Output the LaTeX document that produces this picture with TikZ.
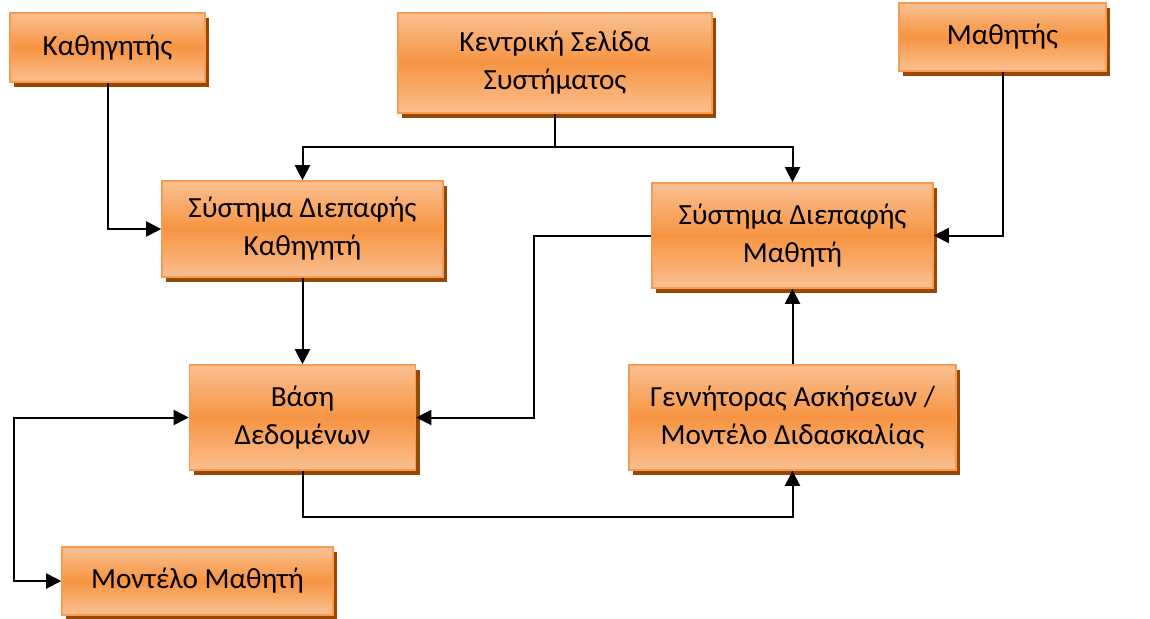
\documentclass[tikz,border=0pt]{standalone}
\usepackage{fontspec}
\setmainfont{Carlito}
\usetikzlibrary{arrows.meta,shadows}

\definecolor{orlight}{RGB}{250,192,145}
\definecolor{ormid}{RGB}{247,148,66}
\definecolor{orline}{RGB}{247,155,80}
\definecolor{orshadow}{RGB}{152,72,6}

\tikzset{
  box/.style 2 args={
    rectangle, draw=orline, line width=0.8pt,
    top color=orlight, bottom color=orlight, middle color=ormid,
    drop shadow={fill=orshadow, opacity=1, shadow xshift=2pt, shadow yshift=-2.5pt},
    minimum width=#1*0.5pt, minimum height=#2*0.5pt,
    inner sep=0pt, align=center,
    font=\fontsize{14.6pt}{19pt}\selectfont
  },
  link/.style={draw=black, line width=1pt},
  arr/.style={link, -{Triangle[length=7.5pt,width=7.5pt]}},
  biarr/.style={link, {Triangle[length=7.5pt,width=7.5pt]}-{Triangle[length=7.5pt,width=7.5pt]}}
}

\begin{document}
\begin{tikzpicture}[x=0.5pt,y=-0.5pt]
  \useasboundingbox (0,0) rectangle (1150,618);

  % boxes
  \node[box={195}{69}]  (kath) at (107.5,47.5) {Καθηγητής};
  \node[box={314}{100}] (kent) at (555,63)     {Κεντρική Σελίδα\\Συστήματος};
  \node[box={207}{68}]  (math) at (1002.5,37)  {Μαθητής};
  \node[box={281}{96}]  (sdk)  at (302.5,229)  {Σύστημα Διεπαφής\\Καθηγητή};
  \node[box={281}{105}] (sdm)  at (792.5,235.5){Σύστημα Διεπαφής\\Μαθητή};
  \node[box={226}{105}] (bd)   at (302.5,417.5){Βάση\\Δεδομένων};
  \node[box={327}{105}] (ga)   at (792.5,417.5){Γεννήτορας Ασκήσεων /\\Μοντέλο Διδασκαλίας};
  \node[box={271}{68}]  (mm)   at (197.5,581)  {Μοντέλο Μαθητή};

  % routing points
  \coordinate (split) at (555,147);
  \coordinate (dbx)   at (534,0);
  \coordinate (loopx) at (14,0);
  \coordinate (bottomy) at (0,517);

  % connectors
  \draw[arr] (kath.south) |- (sdk.west);
  \draw[link] (kent.south) -- (split);
  \draw[arr] (split) -| (sdk.north);
  \draw[arr] (split) -| (sdm.north);
  \draw[arr] (math.south) |- (sdm.east);
  \draw[arr] (sdk.south) -- (bd.north);
  \draw[arr] (sdm.west) -- (sdm.west -| dbx) |- (bd.east);
  \draw[arr] (ga.north) -- (sdm.south);
  \draw[arr] (bd.south) -- (bd.south |- bottomy) -| (ga.south);
  \draw[biarr] (bd.west) -- (bd.west -| loopx) |- (mm.west);
\end{tikzpicture}
\end{document}
